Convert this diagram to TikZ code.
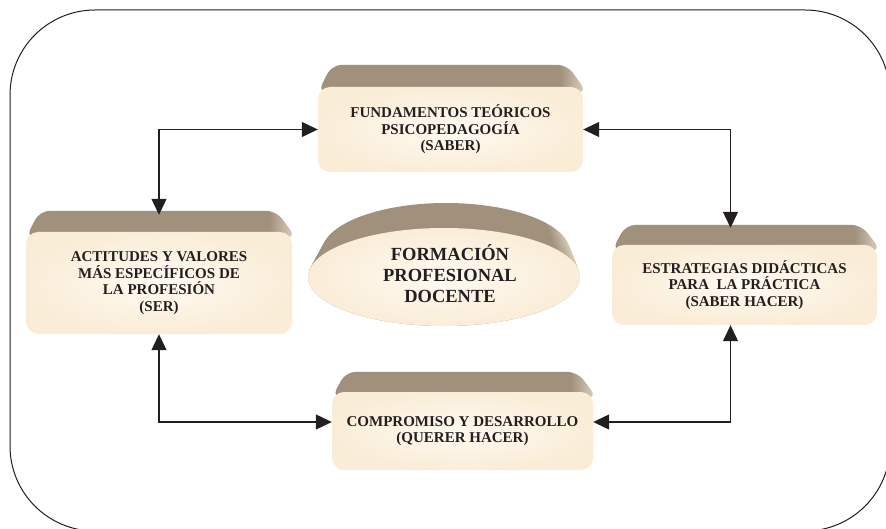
\documentclass[tikz,border=0pt]{standalone}
\usepackage{fontspec}
\setmainfont{Liberation Serif}
\usepackage{xcolor}
\usetikzlibrary{arrows.meta}
\usetikzlibrary{shapes.geometric}
\usetikzlibrary{backgrounds}

\definecolor{braun}{RGB}{160,144,124}
\definecolor{braunhell}{RGB}{225,214,198}
\definecolor{creme}{RGB}{250,237,216}
\definecolor{cremehell}{RGB}{255,250,242}
\definecolor{rahmen}{RGB}{35,31,32}

% Deckfläche: braun, nach rechts hin heller
\pgfdeclarehorizontalshading{deckelschatten}{100bp}{color(0bp)=(braun); color(25bp)=(braun);
  color(70bp)=(braun); color(75bp)=(braunhell); color(100bp)=(braunhell)}

\tikzset{
  feld/.style={rectangle, rounded corners=12pt, inner color=cremehell, outer color=creme,
    align=center, text=rahmen, font=\fontsize{15}{16.5}\selectfont\bfseries},
  deckel/.style={shading=deckelschatten, rounded corners=10pt},
  pfeil/.style={{Triangle[length=16pt,width=15pt]}-{Triangle[length=16pt,width=15pt]},
    line width=1.2pt, draw=rahmen},
}

\begin{document}
\begin{tikzpicture}[x=1pt, y=-1pt]
\useasboundingbox (0,0) rectangle (886,529);
\draw[rahmen, line width=1pt, rounded corners=85pt] (10,10) rectangle (890,531); % Rahmen, rechts und unten angeschnitten

\node[feld, minimum width=265pt, minimum height=85pt] (saber) at (450.5,129.5)
  {FUNDAMENTOS TEÓRICOS\\PSICOPEDAGOGÍA\\(SABER)};
\node[feld, minimum width=266pt, minimum height=102pt] (ser) at (159,283)
  {ACTITUDES Y VALORES\\MÁS ESPECÍFICOS DE\\LA PROFESIÓN\\(SER)};
\node[feld, minimum width=265pt, minimum height=80pt] (hacer) at (744.5,285)
  {ESTRATEGIAS DIDÁCTICAS\\PARA\ \ LA PRÁCTICA\\(SABER HACER)};
\node[feld, minimum width=261pt, minimum height=78pt] (querer) at (462.5,431)
  {COMPROMISO Y DESARROLLO\\(QUERER HACER)};
\node[ellipse, minimum width=272pt, minimum height=98pt, inner color=cremehell, outer color=creme,
  text=rahmen] (kern) at (444,277) {};
\node[align=center, text=rahmen, font=\fontsize{18.5}{21}\selectfont\bfseries] (kerntext)
  at ([xshift=6pt,yshift=3pt]kern.center) {FORMACIÓN\\PROFESIONAL\\DOCENTE};

\begin{scope}[on background layer] % Deckflächen liegen hinter den Feldern
\foreach \n/\h in {saber/22, ser/21, hacer/20, querer/20}
  \shade[deckel] ([yshift=-6pt]\n.north west) -- ([xshift=14pt,yshift=\h pt]\n.north west)
    -- ([xshift=-16pt,yshift=\h pt]\n.north east) -- ([xshift=4pt,yshift=-6pt]\n.north east) -- cycle;
\foreach \t in {0,1,...,25}
  \shade[shading=deckelschatten] (446-0.08*\t, 252+\t) ellipse ({124+0.48*\t} and 49);
\end{scope}

\draw[pfeil] (saber.west) -| ([yshift=17pt]ser.north);
\draw[pfeil] (saber.east) -| ([xshift=-14pt,yshift=17pt]hacer.north);
\draw[pfeil] (ser.south) |- ([yshift=9pt]querer.west);
\draw[pfeil] ([xshift=-14pt]hacer.south) |- ([yshift=9pt]querer.east);
\end{tikzpicture}
\end{document}
